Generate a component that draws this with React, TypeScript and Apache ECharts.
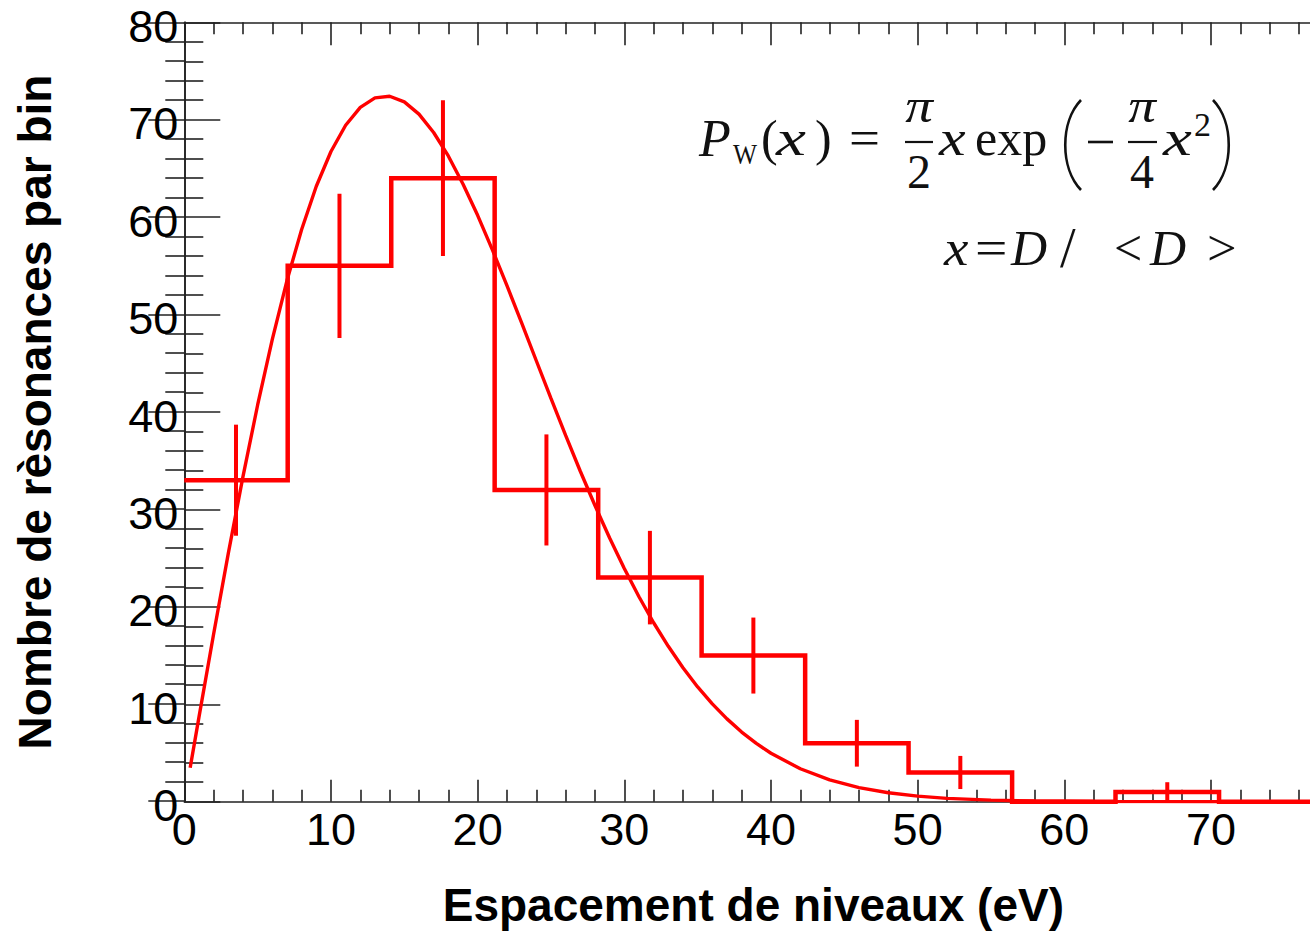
import React, { useEffect, useRef } from "react";
import * as echarts from "echarts";

// ---- data ----
const binEdges = [0, 7.05, 14.11, 21.16, 28.22, 35.27, 42.33, 49.38, 56.44, 63.49, 70.55, 77.6];
const binCounts = [33, 55, 64, 32, 23, 15, 6, 3, 0, 1, 0];
const binErrors = [5.7, 7.4, 8.0, 5.7, 4.8, 3.9, 2.4, 1.7, 0, 1.0, 0];

const curveX = [0.4, 1, 2, 3, 4, 5, 6, 7, 8, 9, 10, 11, 12, 13, 14, 15, 16, 17, 18, 19, 20, 21, 22, 23, 24, 25, 26, 27, 28, 29, 30, 31, 32, 33, 34, 35, 36, 37, 38, 39, 40, 42, 44, 46, 48, 50, 52, 55, 58, 62, 66, 70, 78];
const curveY = [3.48, 8.68, 17.22, 25.49, 33.36, 40.72, 47.46, 53.49, 58.74, 63.17, 66.74, 69.43, 71.26, 72.24, 72.41, 71.83, 70.57, 68.69, 66.28, 63.41, 60.19, 56.67, 52.97, 49.14, 45.26, 41.39, 37.6, 33.92, 30.4, 27.06, 23.93, 21.04, 18.37, 15.95, 13.75, 11.78, 10.04, 8.5, 7.15, 5.98, 4.97, 3.38, 2.24, 1.45, 0.92, 0.57, 0.34, 0.16, 0.07, 0.02, 0.01, 0, 0];

const xTickLabels = [0, 10, 20, 30, 40, 50, 60, 70];
const yTickLabels = [0, 10, 20, 30, 40, 50, 60, 70, 80];

const xTitle = "Espacement de niveaux (eV)";
const yTitle = "Nombre de rèsonances par bin";

const RED = "#ff0000";
const AX = "#222";
const SANS = "'Liberation Sans', Arial, Helvetica, sans-serif";
const SERIF = "'Liberation Serif', 'Times New Roman', serif";

function txt(text: string, x: number, y: number, size: number, italic: boolean, align = "left", sx = 1) {
  return {
    type: "text",
    x,
    y,
    scaleX: sx,
    style: {
      text,
      fontSize: size,
      fontFamily: SERIF,
      fontStyle: italic ? "italic" : "normal",
      fill: "#111",
      align,
      verticalAlign: "middle",
    },
    z: 100,
  };
}
function ln(x1: number, y1: number, x2: number, y2: number, w = 2.2) {
  return { type: "line", shape: { x1, y1, x2, y2 }, style: { stroke: "#111", lineWidth: w }, z: 100 };
}
function paren(xEnd: number, xMid: number) {
  return {
    type: "bezierCurve",
    shape: { x1: xEnd, y1: 100, x2: xEnd, y2: 190, cpx1: xMid, cpy1: 122, cpx2: xMid, cpy2: 168 },
    style: { stroke: "#111", lineWidth: 2.6, fill: null },
    z: 100,
  };
}

export default function App() {
  const ref = useRef<HTMLDivElement>(null);
  useEffect(() => {
    if (!ref.current) return;
    const chart = echarts.init(ref.current, undefined, { renderer: "svg" });

    const W = 1400;
    const left = 184.3;
    const pxPerUnit = 14.667;
    const top = 22.3;
    const bottom = 933 - 801.7;

    const histPts: number[][] = [];
    for (let i = 0; i < binCounts.length; i++) {
      histPts.push([binEdges[i], binCounts[i]]);
      histPts.push([binEdges[i + 1], binCounts[i]]);
    }
    const errData: number[][] = [];
    for (let i = 0; i < binCounts.length; i++) {
      if (binErrors[i] > 0) {
        const c = (binEdges[i] + binEdges[i + 1]) / 2;
        errData.push([c, binCounts[i] - binErrors[i], binCounts[i] + binErrors[i]]);
      }
    }
    const curve = curveX.map((x, i) => [x, curveY[i]]);

    const tickCommon = {
      axisLine: { show: true, lineStyle: { color: AX, width: 1.6 } },
      splitLine: { show: false },
    };

    const B1 = 155 - 0.34 * 50;
    const B2 = 265 - 0.34 * 50;

    const option: any = {
      animation: false,
      backgroundColor: "#fff",
      grid: [
        { left, top, bottom, right: W - (left + 80 * pxPerUnit) },
        { left, top, bottom, right: W - (left + 77.6 * pxPerUnit) },
      ],
      xAxis: [
        {
          type: "value", gridIndex: 0, position: "bottom", min: 0, max: 80, interval: 10,
          ...tickCommon,
          axisTick: { show: true, inside: true, length: 22, lineStyle: { color: AX, width: 1.6 } },
          minorTick: { show: true, splitNumber: 5, length: 12, lineStyle: { color: AX, width: 1.6 } },
          axisLabel: {
            show: true, margin: 5, fontSize: 45, fontFamily: SANS, color: "#000",
            formatter: (v: number) => (xTickLabels.indexOf(Math.round(v)) >= 0 && Math.abs(v - Math.round(v)) < 1e-6 ? String(Math.round(v)) : ""),
          },
        },
        {
          type: "value", gridIndex: 0, position: "top", min: 0, max: 80, interval: 10,
          ...tickCommon,
          axisTick: { show: true, inside: true, length: 23, lineStyle: { color: AX, width: 1.6 } },
          minorTick: { show: true, splitNumber: 5, length: 12, lineStyle: { color: AX, width: 1.6 } },
          axisLabel: { show: false },
        },
        {
          type: "value", gridIndex: 1, position: "bottom", min: 0, max: 77.6,
          axisLine: { show: false }, axisTick: { show: false }, axisLabel: { show: false }, splitLine: { show: false },
          name: xTitle, nameLocation: "middle", nameGap: 81,
          nameTextStyle: { fontSize: 46, fontWeight: "bold", fontFamily: SANS, color: "#000" },
        },
      ],
      yAxis: [
        {
          type: "value", gridIndex: 0, position: "left", min: 0, max: 80, interval: 10,
          ...tickCommon,
          axisTick: { show: true, inside: true, length: 36, lineStyle: { color: AX, width: 1.6 } },
          minorTick: { show: true, splitNumber: 5, length: 19, lineStyle: { color: AX, width: 1.6 } },
          axisLabel: {
            show: true, margin: 6, fontSize: 45, fontFamily: SANS, color: "#000",
            verticalAlign: "top", lineHeight: 8,
            formatter: (v: number) => (yTickLabels.indexOf(Math.round(v)) >= 0 ? String(Math.round(v)) : ""),
          },
          name: yTitle, nameLocation: "middle", nameGap: 126, nameRotate: 90,
          nameTextStyle: { fontSize: 46, fontWeight: "bold", fontFamily: SANS, color: "#000" },
        },
        {
          type: "value", gridIndex: 1, position: "right", min: 0, max: 80, interval: 10,
          ...tickCommon,
          axisTick: { show: true, inside: true, length: 36, lineStyle: { color: AX, width: 1.6 } },
          minorTick: { show: true, splitNumber: 5, length: 19, lineStyle: { color: AX, width: 1.6 } },
          axisLabel: { show: false },
        },
      ],
      series: [
        {
          type: "line", xAxisIndex: 0, yAxisIndex: 0, data: histPts, showSymbol: false, symbol: "none",
          lineStyle: { color: RED, width: 4.5, join: "miter", cap: "butt" }, z: 3,
        },
        {
          type: "custom", xAxisIndex: 0, yAxisIndex: 0, data: errData,
          encode: { x: 0, y: [1, 2] },
          renderItem: (params: any, api: any) => {
            const x = api.value(0);
            const p1 = api.coord([x, api.value(1)]);
            const p2 = api.coord([x, api.value(2)]);
            return {
              type: "line",
              shape: { x1: p1[0], y1: p1[1], x2: p2[0], y2: p2[1] },
              style: { stroke: RED, lineWidth: 4 },
            };
          },
          z: 4,
        },
        {
          type: "line", xAxisIndex: 0, yAxisIndex: 0, data: curve, showSymbol: false, symbol: "none",
          smooth: false, lineStyle: { color: RED, width: 3.4 }, z: 5,
        },
      ],
      graphic: [
        // P_W(x) =
        txt("P", 699, B1, 52, true),
        txt("W", 733, 164 - 0.34 * 30, 30, false, "left", 0.85),
        txt("(", 761, B1, 50, false),
        txt("x", 776, B1, 50, true, "left", 1.35),
        txt(")", 815, B1, 50, false),
        txt("=", 849, B1, 50, false, "left", 1.1),
        // pi / 2
        txt("π", 919, 122 - 0.34 * 48, 48, true, "center", 1.15),
        ln(905, 142, 933, 142),
        txt("2", 919, 188 - 0.34 * 48, 48, false, "center"),
        txt("x", 939, B1, 50, true, "left", 1.2),
        txt("exp", 975, B1, 50, false),
        paren(1081, 1060),
        ln(1088, 142, 1113, 142, 2.6),
        // pi / 4
        txt("π", 1142, 122 - 0.34 * 48, 48, true, "center", 1.15),
        ln(1128, 142, 1157, 142),
        txt("4", 1142, 188 - 0.34 * 48, 48, false, "center"),
        txt("x", 1163, B1, 50, true, "left", 1.3),
        txt("2", 1194, 136 - 0.34 * 34, 34, false),
        paren(1213, 1234),
        // x = D/ <D>
        txt("x", 944, B2, 50, true, "left", 1.1),
        txt("=", 975, B2, 50, false, "left", 1.15),
        txt("D", 1011, B2, 50, true),
        txt("/", 1060, B2, 56, false),
        txt("<", 1114, B2, 50, false),
        txt("D", 1150, B2, 50, true),
        txt(">", 1207, B2, 50, false, "left", 1.05),
      ],
    };
    chart.setOption(option);
    return () => chart.dispose();
  }, []);

  return (
    <div style={{ position: "fixed", left: 0, top: 0, width: 1310, height: 933, overflow: "hidden", background: "#fff" }}>
      <div ref={ref} style={{ width: 1400, height: 933 }} />
    </div>
  );
}
